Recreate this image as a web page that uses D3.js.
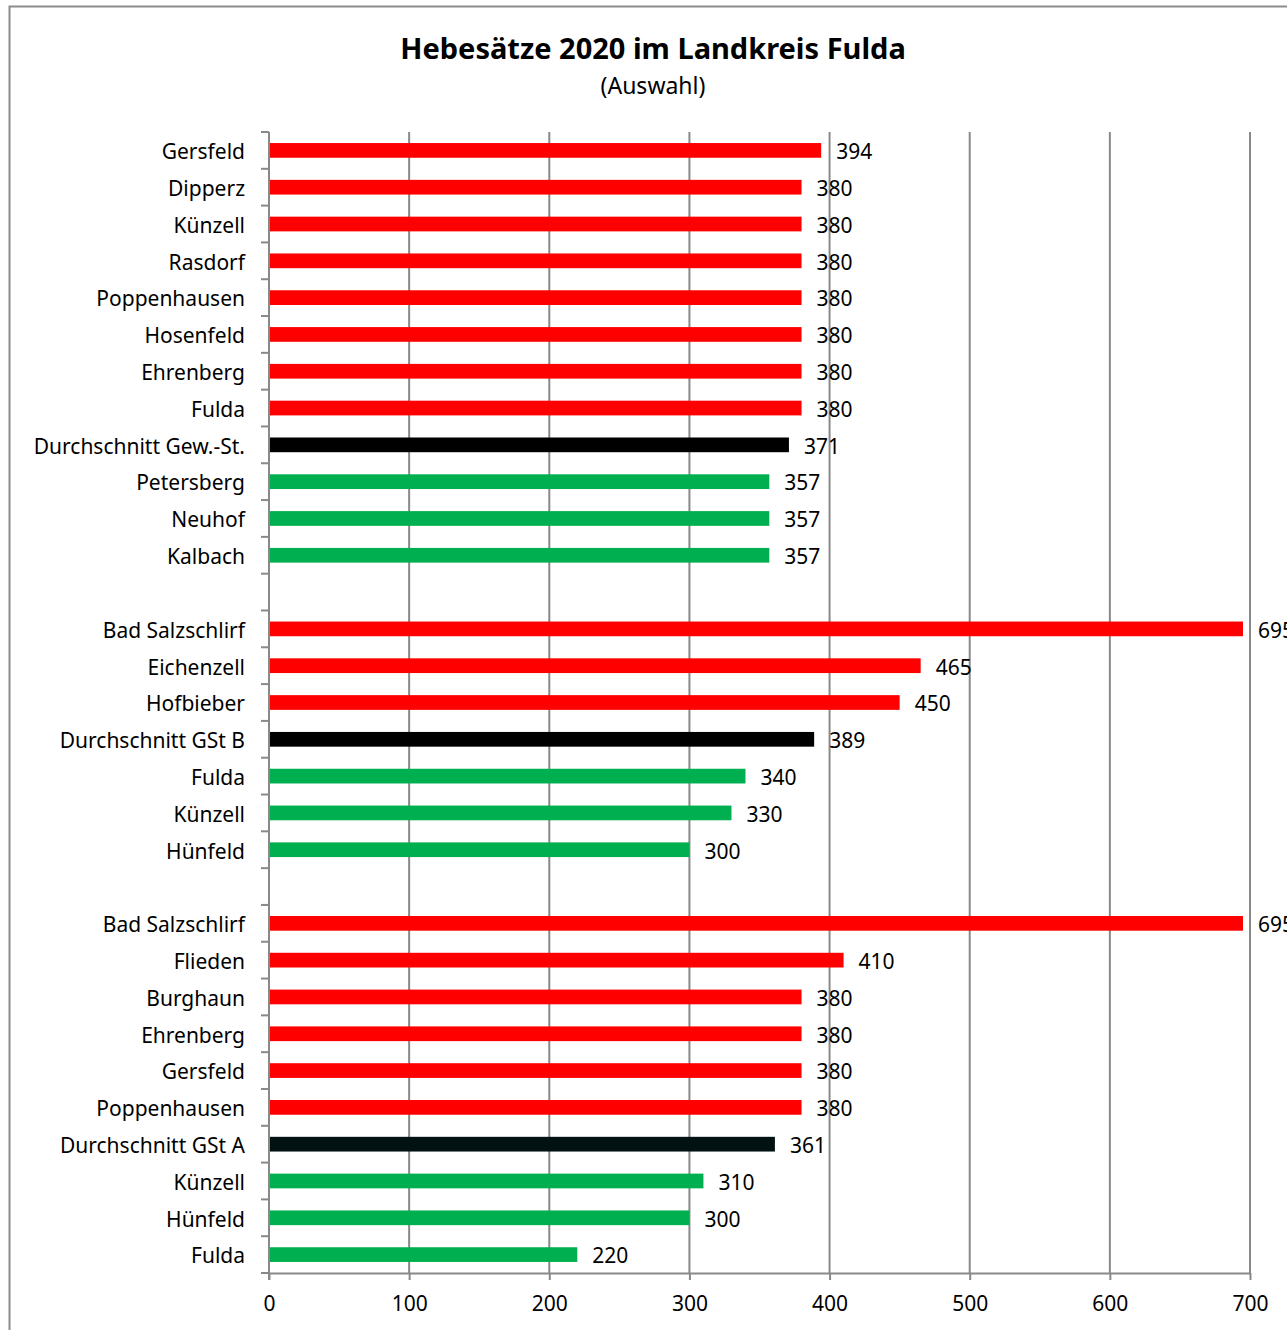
<!DOCTYPE html>
<html>
<head>
<meta charset="utf-8">
<script src="https://cdn.jsdelivr.net/npm/d3@7"></script>
<style>
    body { margin: 0; background: #fff; }
    svg { display: block; font-family: 'Noto Sans', sans-serif; }
</style>
</head>
<body>
<div id="chart"></div>
<script>
// categories top to bottom, '' marks an empty gap row
const labels = [
    'Gersfeld', 'Dipperz', 'Künzell', 'Rasdorf', 'Poppenhausen', 'Hosenfeld', 'Ehrenberg', 'Fulda',
    'Durchschnitt Gew.-St.', 'Petersberg', 'Neuhof', 'Kalbach',
    '',
    'Bad Salzschlirf', 'Eichenzell', 'Hofbieber', 'Durchschnitt GSt B', 'Fulda', 'Künzell', 'Hünfeld',
    '',
    'Bad Salzschlirf', 'Flieden', 'Burghaun', 'Ehrenberg', 'Gersfeld', 'Poppenhausen',
    'Durchschnitt GSt A', 'Künzell', 'Hünfeld', 'Fulda'
];
const values = [
    394, 380, 380, 380, 380, 380, 380, 380, 371, 357, 357, 357,
    null,
    695, 465, 450, 389, 340, 330, 300,
    null,
    695, 410, 380, 380, 380, 380, 361, 310, 300, 220
];
// r = above average, a = average, g = below average
const kinds = [
    'r', 'r', 'r', 'r', 'r', 'r', 'r', 'r', 'a', 'g', 'g', 'g',
    '',
    'r', 'r', 'r', 'a', 'g', 'g', 'g',
    '',
    'r', 'r', 'r', 'r', 'r', 'r', 'a2', 'g', 'g', 'g'
];
const xTicks = [0, 100, 200, 300, 400, 500, 600, 700];

const colors = { r: '#ff0000', a: '#000000', a2: '#021212', g: '#00b050' };

const W = 1287, H = 1330;
const margin = { top: 132, left: 269, right: 37, bottom: 57 };
const innerW = W - margin.left - margin.right;
const innerH = H - margin.top - margin.bottom;

const svg = d3.select('#chart').append('svg')
    .attr('width', W)
    .attr('height', H);

// outer frame
svg.append('rect')
    .attr('x', 9.5).attr('y', 6.5)
    .attr('width', 1320).attr('height', 1360)
    .attr('fill', 'none')
    .attr('stroke', '#8c8c8c')
    .attr('stroke-width', 2);

svg.append('text')
    .attr('x', 653).attr('y', 59)
    .attr('text-anchor', 'middle')
    .attr('font-size', 29)
    .attr('font-weight', 'bold')
    .text('Hebesätze 2020 im Landkreis Fulda');

svg.append('text')
    .attr('x', 653).attr('y', 94)
    .attr('text-anchor', 'middle')
    .attr('font-size', 23)
    .text('(Auswahl)');

const g = svg.append('g')
    .attr('transform', `translate(${margin.left}, ${margin.top})`);

const x = d3.scaleLinear().domain([0, 700]).range([0, innerW]);
const y = d3.scaleBand()
    .domain(d3.range(labels.length))
    .range([0, innerH])
    .paddingInner(0.6)
    .paddingOuter(0.3);

// gridlines
g.selectAll('.grid')
    .data(xTicks.slice(1))
    .enter().append('line')
    .attr('class', 'grid')
    .attr('x1', d => x(d)).attr('x2', d => x(d))
    .attr('y1', 0).attr('y2', innerH)
    .attr('stroke', '#898989')
    .attr('stroke-width', 2);

// x axis
const xAxis = g.append('g')
    .attr('transform', `translate(0, ${innerH})`)
    .call(d3.axisBottom(x).tickValues(xTicks).tickSize(7).tickPadding(16).tickSizeOuter(0));
xAxis.select('.domain').attr('stroke', '#898989').attr('stroke-width', 2);
xAxis.selectAll('.tick line').attr('stroke', '#898989').attr('stroke-width', 2);
xAxis.selectAll('.tick text')
    .attr('font-size', 21)
    .attr('font-family', "'Noto Sans', sans-serif")
    .attr('fill', '#000');

// y axis: labels at band centres, ticks on band boundaries
const step = y.step();
const yAxis = g.append('g')
    .call(d3.axisLeft(y).tickSize(0).tickPadding(24).tickFormat(i => labels[i]));
yAxis.select('.domain').remove();
yAxis.selectAll('.tick text')
    .attr('font-size', 21)
    .attr('dy', '0.42em')
    .attr('font-family', "'Noto Sans', sans-serif")
    .attr('fill', '#000');

g.selectAll('.ytick')
    .data(d3.range(labels.length + 1))
    .enter().append('line')
    .attr('class', 'ytick')
    .attr('x1', -8).attr('x2', 0)
    .attr('y1', i => i * step).attr('y2', i => i * step)
    .attr('stroke', '#898989')
    .attr('stroke-width', 2);

g.append('line')
    .attr('x1', 0).attr('x2', 0)
    .attr('y1', 0).attr('y2', innerH + 7)
    .attr('stroke', '#898989')
    .attr('stroke-width', 2);

const rows = d3.range(labels.length).filter(i => values[i] !== null);

g.selectAll('.bar')
    .data(rows)
    .enter().append('rect')
    .attr('class', 'bar')
    .attr('x', 1)
    .attr('y', i => y(i))
    .attr('width', i => x(values[i]) - 1)
    .attr('height', y.bandwidth())
    .attr('fill', i => colors[kinds[i]]);

g.selectAll('.val')
    .data(rows)
    .enter().append('text')
    .attr('class', 'val')
    .attr('x', i => x(values[i]) + 15)
    .attr('y', i => y(i) + y.bandwidth() / 2)
    .attr('dy', '0.42em')
    .attr('font-size', 21)
    .text(i => values[i]);
</script>
</body>
</html>
